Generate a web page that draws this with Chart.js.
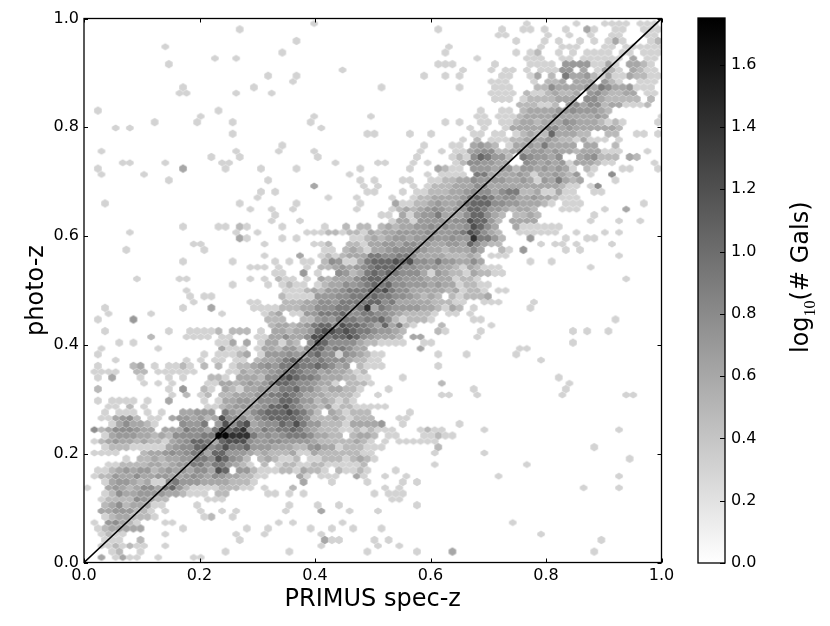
<!DOCTYPE html>
<html>
<head>
<meta charset="utf-8">
<title>photo-z vs spec-z</title>
<script src="https://cdn.jsdelivr.net/npm/chart.js@4"></script>
<style>
  html, body { margin: 0; background: #fff; }
  #mainWrap { position: absolute; left: 0; top: 0; }
  #barWrap { position: absolute; left: 680px; top: 0; }
</style>
</head>
<body>
<div id="mainWrap"><canvas id="hexChart" width="680" height="626"></canvas></div>
<div id="barWrap"><canvas id="colorBar" width="150" height="626"></canvas></div>
<script>
// tick labels
const xTicks = [0, 0.2, 0.4, 0.6, 0.8, 1.0];
const yTicks = [0, 0.2, 0.4, 0.6, 0.8, 1.0];
const barTicks = [0, 0.2, 0.4, 0.6, 0.8, 1.0, 1.2, 1.4, 1.6];

// galaxies per hexagon for the digits used in hexRows (digit 1 -> 2 gals ... digit 0 -> 50)
const levelCounts = { 1: 2, 2: 3, 3: 4, 4: 5, 5: 6, 6: 8, 7: 11, 8: 16, 9: 26, 0: 50 };

// hexbin lattice in data units
const gridX0 = 0.0057, gridDx = 0.012277;
const gridYTop = 0.98009, gridDy = 0.010667;

// one entry per hexagon row from the top (first one is row -1)
// "col:digits" = levels starting at column col, "." = empty hexagon
const hexRows = [
  "32:1 62:1 69:1 73:1111 78:111",
  "21:1 49:1 58:1 61:11 64:1 67:1 70:3 71:1 74:11 78:111",
  "58:11 65:1 68:1 71:1 74:11 79:11",
  "29:1 60:1 64:1 66:1 69:1 71:1 73:1 74:3 75:1 79:1 80:2",
  "11:1 51:1 64:1 67:111 73:11 76:111111",
  "27:1 50:1 60:1 62:1 63:2 66:1 68:1 70:1111 75:11 78:111",
  "18:1 21:1 55:1 62:111 67:11 70:111111 77:3 79:11",
  "11:1 49:111 57:1 62:1111 67:4444 71:11 73:3 74:1 76:332 79:1",
  "36:1 53:1 57:1 59:11 62:1 64:111 67:44 70:3 72:1321 77:3211",
  "25:1 29:1 47:1 50:1 52:1 58:11 62:13 65:2 67:63342131 75:132211",
  "29:1 57:111 63:1 65:223.333.421 78:111",
  "13:1 23:1 41:1 52:1 57:111 63:22533334365334111",
  "13:11 21:1 26:1 57:1111 62:21123223.4532233.11",
  "57:111 61:12222333.55322222.2",
  "61:222112.453552331112",
  "1:1 18:1 55:1 58:11 61:2333344544432",
  "16:1 32:1 40:1 55:11 58:111 61:2333353333343 81:1",
  "9:1 15:1 20:1 31:1 50:1 52:1 55:11 58:112332333543332121 80:1",
  "4:1 6:1 33:1 54:1 56:1 59:13333355343333332",
  "20:1 39:11 45:1 48:1 54:11 57:11 60:12322733322..22 77:11 80:1",
  "53:1 55:2 57:11122333432213111 75:1",
  "27:1 47:1 51:11 54:3432.1334363333.33..2",
  "2:1 21:1 27:1 32:1 47:1 50:1 52:113455223434434332333111 79:1",
  "17:1 21:1 32:1 46:1 51:121576442.654435..345222.32",
  "5:11 11:1 19:11 35:1 41:11 46:1 48:1 52:12554433..5434341333211 80:1",
  "1:1 13:3 19:1 24:1 29:1 38:1 45:1 49:3211.444344244343431.21 75:11 80:1",
  "2:1 8:1 37:1 48:1 50:1111.663333431334324.1 74:5",
  "11:1 25:1 38:1 40:1 44:11 48:1122335444433431436323 74:1",
  "32:3 39:1 41:1 46:1 48:1222333553333333333211.15",
  "24:1 26:1 39:11 44:1 46:11 48:222334555356622311311..11",
  "24:1 34:1 38:1 43:1 46:122333346776455334332111",
  "2:1 21:1 29:1 38:1 43:31122343346777554433321.111 78:1",
  "23:1 26:1 29:1 38:1 43:123234543447764432332 67:111 73:1 76:3",
  "26:1 41:11.313446333577532.2232 71:1",
  "26:1 30:1 43:1331444445587742.3333 71:1 75:1 78:1",
  "13:1 18:11 21:21 27:1 33:1 36:2 38:22.23233445454458753..3111111",
  "6:1 21:1 24:1 31:1112212213233444455445687532..111111 69:1 73:1 75:1",
  "21:31 27:1 29:1 37:1123234434454454496642 62:4 67:1 70:11",
  "15:11 25:1 32:112 37:2213344355443344375322 64:1 66:11 69:1 74:1",
  "5:1 16:1 33:11.23213345555433233353..21.4 67:1 69:1",
  "25:1 30:3 33:12123336655665333322232 57:111 75:1",
  "13:1 20:1 26:1 28:1 30:11 33:25411367778785546443353 62:1 65:1",
  "23:111 27:1 31:1 33:22343456777655444332132111 71:1",
  "26:11 30:4.1 35:542367676555314322132211",
  "7:1 13:11 23:1 25:1 27:211.1.32333567765544433331221 76:1",
  "20:1 25:1 27:1211.1233545676755444343312211",
  "14:1 28:11123244566677865533333231221 58:11",
  "14:1 16:11 27:21111444556667665543232.212223",
  "15:1 23:11 28:22233554666677563333322211..111 63:1",
  "2:1 13:1 17:3 23:111122233555665693654444332132.1 62:1",
  "3:1 9:1 19:1 25:123.114466675566554322221.11.1",
  "1:1 6:4 25:222..2245466656675212221 54:11 74:1",
  "26:233234677587765373621 50:2 57:1",
  "2:1 11:1 14:11112.222.1.3323347887876654432 49:21 55:1 68:1 70:1 73:1",
  "9:2 14:1111 19:11 24:113353358867787543332.33 55:1",
  "4:1 6:1 18:113.3.133132.58755553221111..11 68:1",
  "2:1 10:1 19:3111.1332442577566533 47:3 61:11",
  "1:1 16:1 18:11123.144454467551543211 49:1 53:1 60:1",
  "4:1 14:1 16:1 18:11 21:11 24:233467665655532211 64:1",
  "1:1 6:23 9:1 11:11 13:21 16:2 18:2 20:12234546676676534.2111 49:1",
  "1:1111 7:22 10:111111 20:11323345676553433212",
  "1:1 3:3 7:1 11:1 13:1 17:221.3332557876653332211 44:1 66:1",
  "8:1 10:1 12:1 17:1133234346776554331.2221 50:2 68:1",
  "1:2 11:1 13:4 16:21.32133444667553233221 42:1 54:1 67:1",
  "12:1 14:2 16:12.22333456676533322221 41:1 50:11 55:1 67:1 76:11",
  "1:1 3:1111 8:1 11:3 16:1 18:13344355577644232121",
  "3:11 6:2 8:1 17:11234444577865332412211111",
  "2:1 4:111 8:1 10:1 13:33444.64335677787642.321222 45:1",
  "2:113452 9:11 12:34434238555356777765222321222 44:11",
  "3:1353321 13:5446.485783455768644222133334 44:1 52:1",
  "1:523555433.333655369789446566764322211212111 47:1211 56:1 75:1",
  "2:1344433232555566009996454566653322.2332.11 47:11211",
  "1:1234332322134577637888544554444322222321.1.111111",
  "2:1222111113455775686674443332245331222111 49:2 71:1",
  "1:1111 8:233454566377444323222311322222211 49:1 56:1",
  "5:1 7:2232334466587542.232112.1122212321 76:1",
  "3:112222332344664664321.2.1221122111112 49:1 62:1",
  "1:1123434423434355387.4421112213221.21121 43:1",
  "1:1224335334433454354332211 30:31 33:111 38:31 42:1 45:1 58:1 75:1",
  "2:1344323115644433332221 30:3 34:1 39:1 44:1 46:1",
  "0:1 3:343235536742111122211.1 29:2 42:1 44:1 70:1 75:1",
  "2:125334444332111.22 25:11 28:1 30:1 40:1 42:111",
  "2:1222254322 17:111 43:11",
  "2:235233311 15:1 28:1 32:1 35:1 46:1",
  "2:33444221.1 16:1 19:1 21:1 28:1 33:3 37:1 41:1",
  "2:12332221 16:12 20:1",
  "1:1.45321 11:11 27:1.1 36:1 60:1",
  "1:1233333 13:1 22:1 25:1 31:1 34:1 37:1 41:1",
  "2:1211 11:1 21:1 25:1 33:1 64:1",
  "2:111 7:2 21:1 33:311 40:1 42:1 72:1",
  "2:1121211 11:1 33:1 41:1 44:1",
  "3:12 7:1 19:1 28:1 39:1 46:1 51:3 71:1",
  "2:3.1311 10:1 15:11"
];

const labelFont = 'DejaVu Sans';
const maxLog = 1.75;

function grayFor(logN) {
  var g = Math.round(255 * (1 - logN / maxLog));
  return 'rgb(' + g + ',' + g + ',' + g + ')';
}

// pointStyle image, one per gray level and row type
function hexCanvas(halfH, shoulder, color) {
  var c = document.createElement('canvas');
  c.width = 10;
  c.height = 12;
  var ctx = c.getContext('2d');
  var cx = 5, cy = 6, hw = 3.8;
  ctx.fillStyle = color;
  ctx.beginPath();
  ctx.moveTo(cx, cy - halfH);
  ctx.lineTo(cx + hw, cy - shoulder);
  ctx.lineTo(cx + hw, cy + shoulder);
  ctx.lineTo(cx, cy + halfH);
  ctx.lineTo(cx - hw, cy + shoulder);
  ctx.lineTo(cx - hw, cy - shoulder);
  ctx.closePath();
  ctx.fill();
  return c;
}

// build one dataset per row type and level from hexRows
var buckets = {};
hexRows.forEach(function (line, i) {
  var k = i - 1;
  var lens = Math.abs(k) % 2 === 1;
  line.split(' ').forEach(function (seg) {
    var parts = seg.split(':');
    var col = parseInt(parts[0], 10);
    for (var j = 0; j < parts[1].length; j++) {
      var ch = parts[1][j];
      if (ch === '.') continue;
      var key = (lens ? 'l' : 'f') + ch;
      if (!buckets[key]) buckets[key] = [];
      buckets[key].push({
        x: gridX0 + gridDx * (col + j + (lens ? 0 : 0.5)),
        y: gridYTop - gridDy * k
      });
    }
  });
});

var datasets = [{
  data: [{ x: 0, y: 0 }, { x: 1, y: 1 }],
  showLine: true,
  borderColor: '#000',
  borderWidth: 1.6,
  pointRadius: 0,
  order: 0
}];
Object.keys(buckets).forEach(function (key) {
  var lens = key[0] === 'l';
  var logN = Math.log10(levelCounts[key[1]]);
  datasets.push({
    data: buckets[key],
    showLine: false,
    pointStyle: lens ? hexCanvas(3.6, 1.2, grayFor(logN)) : hexCanvas(4.2, 2.1, grayFor(logN)),
    pointRadius: 4,
    order: lens ? 2 : 1
  });
});

function tickLabel(v) {
  return Number(v).toFixed(1);
}

// inward ticks and the box around the axes
const frameTicks = {
  id: 'frameTicks',
  afterDraw: function (chart, args, opts) {
    var a = chart.chartArea, ctx = chart.ctx;
    ctx.save();
    ctx.strokeStyle = '#000';
    ctx.lineWidth = 1;
    if (chart.scales.x && opts.both) {
      xTicks.forEach(function (v) {
        var px = Math.round(chart.scales.x.getPixelForValue(v)) + 0.5;
        ctx.beginPath();
        ctx.moveTo(px, a.bottom); ctx.lineTo(px, a.bottom - 4);
        ctx.moveTo(px, a.top); ctx.lineTo(px, a.top + 4);
        ctx.stroke();
      });
    }
    (opts.ticks || []).forEach(function (v) {
      var py = Math.round(chart.scales.y.getPixelForValue(v)) + 0.5;
      ctx.beginPath();
      ctx.moveTo(a.right, py); ctx.lineTo(a.right - opts.len, py);
      if (opts.both) { ctx.moveTo(a.left, py); ctx.lineTo(a.left + opts.len, py); }
      ctx.stroke();
    });
    ctx.lineWidth = 1.3;
    ctx.strokeRect(a.left, a.top, a.right - a.left, a.bottom - a.top);
    ctx.restore();
  }
};

new Chart(document.getElementById('hexChart'), {
  type: 'scatter',
  data: { datasets: datasets },
  plugins: [frameTicks],
  options: {
    responsive: false,
    animation: false,
    layout: { padding: { top: 18.5, right: 18.5, left: 0, bottom: 0 } },
    plugins: {
      legend: { display: false },
      tooltip: { enabled: false },
      frameTicks: { both: true, ticks: yTicks, len: 4 }
    },
    scales: {
      x: {
        type: 'linear',
        min: 0,
        max: 1,
        afterFit: function (s) { s.height = 63.5; },
        afterBuildTicks: function (s) { s.ticks = xTicks.map(function (v) { return { value: v }; }); },
        grid: { display: false, tickLength: 0 },
        border: { display: false },
        ticks: { color: '#000', font: { family: labelFont, size: 16 }, padding: 4, maxRotation: 0, callback: tickLabel },
        title: { display: true, text: 'PRIMUS spec-z', color: '#000', font: { family: labelFont, size: 24 }, padding: { top: 0, bottom: 12 } }
      },
      y: {
        type: 'linear',
        min: 0,
        max: 1,
        afterFit: function (s) { s.width = 84; },
        afterBuildTicks: function (s) { s.ticks = yTicks.map(function (v) { return { value: v }; }); },
        grid: { display: false, tickLength: 0 },
        border: { display: false },
        ticks: { color: '#000', font: { family: labelFont, size: 16 }, padding: 5, callback: tickLabel },
        title: { display: true, text: 'photo-z', color: '#000', font: { family: labelFont, size: 24 }, padding: { top: 22, bottom: 0 } }
      }
    }
  }
});

// colour bar label: subscript needs its own font, so it is drawn piece by piece
const barLabel = {
  id: 'barLabel',
  afterDraw: function (chart) {
    var ctx = chart.ctx;
    ctx.save();
    ctx.translate(128, 353);
    ctx.rotate(-Math.PI / 2);
    ctx.fillStyle = '#000';
    ctx.textBaseline = 'alphabetic';
    ctx.font = '24px ' + labelFont;
    ctx.fillText('log', 0, 0);
    var w = ctx.measureText('log').width;
    ctx.font = '16px "Liberation Serif"';
    ctx.fillText('10', w, 7);
    var w2 = ctx.measureText('10').width;
    ctx.font = '24px ' + labelFont;
    ctx.fillText('(# Gals)', w + w2, 0);
    ctx.restore();
  }
};

new Chart(document.getElementById('colorBar'), {
  type: 'bar',
  data: {
    labels: [''],
    datasets: [{
      data: [[0, maxLog]],
      barPercentage: 1,
      categoryPercentage: 1,
      backgroundColor: function (c) {
        var a = c.chart.chartArea;
        if (!a) return '#888';
        var g = c.chart.ctx.createLinearGradient(0, a.bottom, 0, a.top);
        g.addColorStop(0, '#fff');
        g.addColorStop(1, '#000');
        return g;
      }
    }]
  },
  plugins: [frameTicks, barLabel],
  options: {
    responsive: false,
    animation: false,
    layout: { padding: { top: 18, left: 18, right: 0, bottom: 63 } },
    plugins: {
      legend: { display: false },
      tooltip: { enabled: false },
      frameTicks: { both: false, ticks: barTicks, len: 5 }
    },
    scales: {
      x: { display: false },
      y: {
        position: 'right',
        min: 0,
        max: maxLog,
        afterFit: function (s) { s.width = 105; },
        afterBuildTicks: function (s) { s.ticks = barTicks.map(function (v) { return { value: v }; }); },
        grid: { display: false, tickLength: 0 },
        border: { display: false },
        ticks: { color: '#000', font: { family: labelFont, size: 16 }, padding: 6, callback: tickLabel }
      }
    }
  }
});
</script>
</body>
</html>
